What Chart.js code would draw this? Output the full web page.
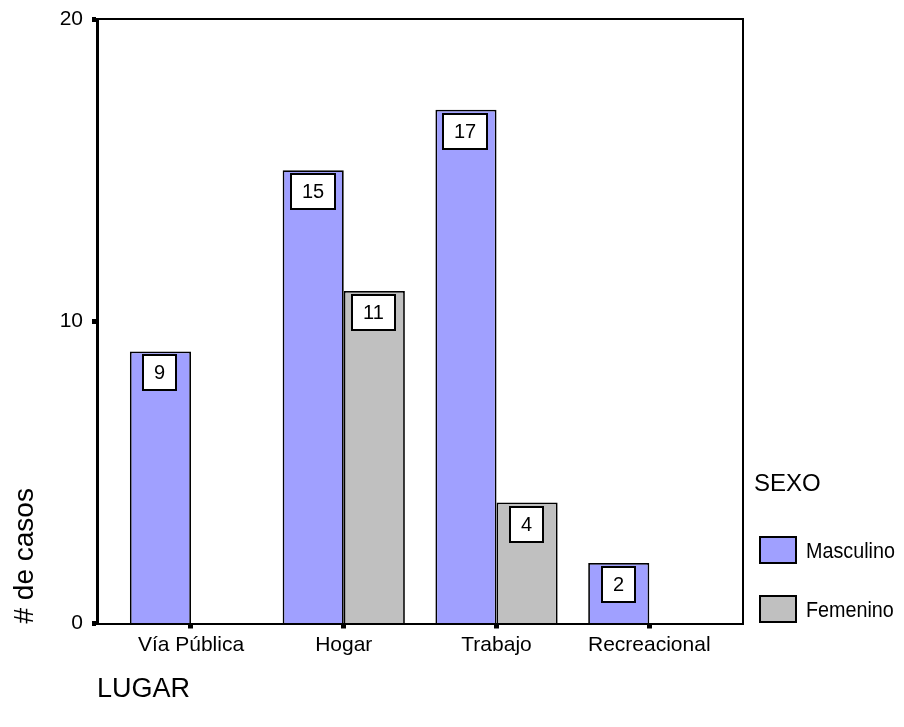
<!DOCTYPE html>
<html>
<head>
<meta charset="utf-8">
<script src="https://cdn.jsdelivr.net/npm/chart.js@4/dist/chart.umd.min.js"></script>
<style>
  html, body { margin: 0; padding: 0; background: #ffffff; }
  #wrap { width: 904px; height: 727px; }
</style>
</head>
<body>
<div id="wrap"><canvas id="chart" width="904" height="727"></canvas></div>
<script>
// Cases by place (LUGAR), split by sex (SEXO)
const categories = ['Vía Pública', 'Hogar', 'Trabajo', 'Recreacional'];
const masculino = [9, 15, 17, 2];
const femenino = [0, 11, 4, 0];
const seriesNames = ['Masculino', 'Femenino'];
const seriesColors = ['#a0a0ff', '#c0c0c0'];
const yTickValues = [0, 10, 20];
const yTitle = '# de casos';
const xTitle = 'LUGAR';
const legendTitle = 'SEXO';

const FONT = '"Liberation Sans", Arial, sans-serif';

// White boxed value labels near the top of each bar
const valueBoxes = {
  id: 'valueBoxes',
  afterDatasetsDraw(chart) {
    const ctx = chart.ctx;
    ctx.save();
    ctx.font = '20px ' + FONT;
    ctx.textAlign = 'center';
    ctx.textBaseline = 'middle';
    chart.data.datasets.forEach((ds, i) => {
      const meta = chart.getDatasetMeta(i);
      meta.data.forEach((bar, j) => {
        const v = ds.data[j].y;
        if (!v) return;
        const { x, y } = bar.getProps(['x', 'y'], true);
        const txt = String(v);
        const w = Math.round(ctx.measureText(txt).width + 24);
        const h = 37;
        const left = Math.round(x - w / 2 - 0.5);
        const top = Math.round(y + 3);
        ctx.fillStyle = '#ffffff';
        ctx.fillRect(left, top, w, h);
        ctx.lineWidth = 2;
        ctx.strokeStyle = '#000000';
        ctx.strokeRect(left + 1, top + 1, w - 2, h - 2);
        ctx.fillStyle = '#000000';
        ctx.fillText(txt, left + w / 2, top + h / 2 + 1);
      });
    });
    ctx.restore();
  }
};

// Top and right edges of the plot frame
const plotFrame = {
  id: 'plotFrame',
  afterDatasetsDraw(chart) {
    const { ctx, chartArea: a } = chart;
    ctx.save();
    ctx.strokeStyle = '#000000';
    ctx.lineWidth = 2;
    ctx.beginPath();
    ctx.moveTo(a.left, a.top);
    ctx.lineTo(a.right, a.top);
    ctx.lineTo(a.right, a.bottom);
    ctx.stroke();
    ctx.restore();
  }
};

// Legend at the lower right: title, swatches and series names
const sideLegend = {
  id: 'sideLegend',
  afterDraw(chart) {
    const { ctx, chartArea: a } = chart;
    const x0 = a.right + 11;
    ctx.save();
    ctx.fillStyle = '#000000';
    ctx.textAlign = 'left';
    ctx.textBaseline = 'middle';
    ctx.font = '24px ' + FONT;
    ctx.fillText(legendTitle, x0, 484);
    chart.data.datasets.forEach((ds, i) => {
      const top = 536 + i * 59;
      ctx.fillStyle = ds.backgroundColor;
      ctx.fillRect(x0 + 5, top, 38, 28);
      ctx.strokeStyle = '#000000';
      ctx.lineWidth = 2;
      ctx.strokeRect(x0 + 6, top + 1, 36, 26);
      ctx.fillStyle = '#000000';
      ctx.font = '21px ' + FONT;
      ctx.save();
      ctx.translate(x0 + 52, top + 16);
      ctx.scale(0.94, 1.05);
      ctx.fillText(ds.label, 0, 0);
      ctx.restore();
    });
    ctx.restore();
  }
};

const toPoints = arr => arr.map((v, i) => ({ x: i, y: v }));

new Chart(document.getElementById('chart'), {
  type: 'bar',
  data: {
    datasets: [
      { label: seriesNames[0], data: toPoints(masculino), backgroundColor: seriesColors[0] },
      { label: seriesNames[1], data: toPoints(femenino), backgroundColor: seriesColors[1] }
    ]
  },
  options: {
    responsive: false,
    animation: false,
    devicePixelRatio: 1,
    events: [],
    layout: { padding: { left: 0, right: 161, top: 19, bottom: 0 } },
    datasets: {
      bar: {
        categoryPercentage: 0.8,
        barPercentage: 1.0,
        borderColor: '#000000',
        borderWidth: 1.75,
        inflateAmount: 0
      }
    },
    plugins: {
      legend: { display: false },
      tooltip: { enabled: false }
    },
    scales: {
      x: {
        type: 'linear',
        min: -0.6153,
        max: 3.6134,
        offset: false,
        afterFit: s => { s.height = 103.5; },
        afterBuildTicks: s => { s.ticks = categories.map((_, i) => ({ value: i })); },
        grid: {
          display: true,
          offset: false,
          drawOnChartArea: false,
          drawTicks: true,
          tickLength: 5,
          tickWidth: 5,
          tickColor: '#000000'
        },
        border: { display: true, color: '#000000', width: 2, z: 1 },
        ticks: {
          autoSkip: false,
          maxRotation: 0,
          padding: 4,
          color: '#000000',
          font: { family: FONT, size: 21 },
          callback: v => categories[v] ?? ''
        },
        title: {
          display: true,
          text: xTitle,
          align: 'start',
          color: '#000000',
          font: { family: FONT, size: 27 },
          padding: { top: 0, bottom: 21 }
        }
      },
      y: {
        min: 0,
        max: 20,
        afterFit: s => { s.width = 97; s.paddingTop = 0; s.paddingBottom = 0; },
        afterBuildTicks: s => { s.ticks = yTickValues.map(v => ({ value: v })); },
        grid: {
          display: true,
          drawOnChartArea: false,
          drawTicks: true,
          tickLength: 5,
          tickWidth: 5,
          tickColor: '#000000'
        },
        border: { display: true, color: '#000000', width: 3, z: 1 },
        ticks: {
          padding: 9,
          color: '#000000',
          font: { family: FONT, size: 21 }
        },
        title: {
          display: true,
          text: yTitle,
          align: 'start',
          color: '#000000',
          font: { family: FONT, size: 28 },
          padding: { top: 8, bottom: 0 }
        }
      }
    }
  },
  plugins: [valueBoxes, plotFrame, sideLegend]
});
</script>
</body>
</html>
